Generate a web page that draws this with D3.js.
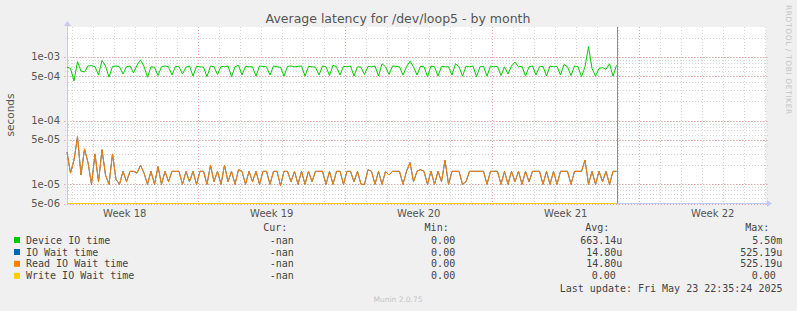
<!DOCTYPE html>
<html>
<head>
<meta charset="utf-8">
<script src="https://cdn.jsdelivr.net/npm/d3@7"></script>
<style>
  html, body { margin: 0; padding: 0; background: #f0f0f0; }
  svg { display: block; }
</style>
</head>
<body>
<svg id="chart" width="797" height="311"></svg>
<script>
// time window of the graph (UTC)
const timeStart = "2025-04-27T18:00:00Z";
const timeEnd = "2025-05-31T00:50:00Z";
const lastUpdate = "2025-05-23T22:35:24Z";
const stepHours = 4;

// Device IO time, microseconds, one value per step
const deviceIO = [
  690, 660, 420, 840, 600, 580, 720, 730, 700, 520, 880, 720, 480, 710, 720, 700, 540, 700, 720, 560,
  740, 900, 710, 480, 700, 690, 510, 700, 720, 700, 520, 710, 700, 540, 690, 720, 500, 710, 700, 690,
  490, 720, 700, 530, 710, 700, 720, 490, 700, 740, 520, 710, 700, 700, 500, 720, 710, 700, 520, 720,
  700, 690, 500, 710, 720, 700, 710, 720, 500, 710, 700, 690, 520, 720, 700, 510, 740, 700, 520, 710,
  700, 720, 500, 700, 690, 530, 710, 700, 720, 500, 780, 700, 530, 720, 710, 700, 520, 700, 860, 700,
  520, 710, 700, 490, 720, 700, 500, 710, 700, 700, 520, 780, 700, 500, 710, 700, 720, 490, 700, 710,
  500, 720, 700, 710, 510, 700, 540, 720, 830, 700, 710, 500, 700, 720, 520, 700, 710, 500, 720, 700,
  710, 520, 760, 700, 510, 720, 700, 490, 700, 1450, 660, 500, 660, 680, 640, 780, 500, 740
];

// IO Wait time, microseconds (Read IO Wait time has the same values)
const ioWait = [
  32, 15, 24, 56, 14, 36, 22, 10, 30, 11, 35, 14, 10, 30, 12, 10, 16, 11, 16, 16,
  15, 20, 15, 10, 16, 10, 19, 10, 16, 11, 16, 16, 16, 10, 16, 11, 16, 10, 16, 16,
  10, 20, 11, 16, 10, 20, 11, 16, 10, 17, 16, 10, 16, 11, 16, 10, 16, 16, 10, 16,
  16, 9.5, 16, 16, 11, 16, 10, 16, 10, 16, 11, 16, 16, 16, 10, 16, 10, 16, 16, 10,
  16, 16, 11, 16, 10, 10, 17, 16, 10, 16, 10, 16, 14, 16, 16, 16, 10, 16, 22, 11,
  16, 17, 16, 10, 16, 10, 16, 11, 24, 10, 16, 16, 16, 10, 11, 16, 16, 16, 16, 16,
  10, 16, 16, 16, 10, 16, 10, 16, 11, 16, 10, 16, 11, 16, 16, 16, 10, 16, 10, 16,
  10, 16, 16, 16, 10, 16, 16, 16, 24, 10, 16, 10, 16, 11, 16, 10, 16, 16
];
const readWait = ioWait;

// Write IO Wait time, all zero
const writeWait = [
  0,0,0,0,0,0,0,0,0,0,0,0,0,0,0,0,0,0,0,0,0,0,0,0,0,0,0,0,0,0,0,0,0,0,0,0,0,0,0,0,
  0,0,0,0,0,0,0,0,0,0,0,0,0,0,0,0,0,0,0,0,0,0,0,0,0,0,0,0,0,0,0,0,0,0,0,0,0,0,0,0,
  0,0,0,0,0,0,0,0,0,0,0,0,0,0,0,0,0,0,0,0,0,0,0,0,0,0,0,0,0,0,0,0,0,0,0,0,0,0,0,0,
  0,0,0,0,0,0,0,0,0,0,0,0,0,0,0,0,0,0,0,0,0,0,0,0,0,0,0,0,0,0,0,0,0,0,0,0,0,0
];

const seriesNames = ["Device IO time", "IO Wait time", "Read IO Wait time", "Write IO Wait time"];
const seriesColors = ["#00cc00", "#0066b3", "#ff8000", "#ffcc00"];
const curValues = ["-nan", "-nan", "-nan", "-nan"];
const minValues = ["0.00", "0.00", "0.00", "0.00"];
const avgValues = ["663.14u", "14.80u", "14.80u", "0.00"];
const maxValues = ["5.50m", "525.19u", "525.19u", "0.00"];

const yMin = 5e-6, yMax = 2.95e-3;
const yLabels = [5e-6, 1e-5, 5e-5, 1e-4, 5e-4, 1e-3];

const plot = { left: 67, right: 766, top: 27, bottom: 203.5 };

const svg = d3.select("#chart");
const sans = "'DejaVu Sans', Verdana, sans-serif";
const mono = "'DejaVu Sans Mono', monospace";

const x = d3.scaleUtc()
    .domain([new Date(timeStart), new Date(timeEnd)])
    .range([plot.left, plot.right])

const y = d3.scaleLog()
    .domain([yMin, yMax])
    .range([plot.bottom, plot.top])
    .clamp(true)

// plot background
svg.append("rect")
    .attr("x", plot.left).attr("y", plot.top)
    .attr("width", plot.right - plot.left).attr("height", plot.bottom - plot.top)
    .attr("fill", "#ffffff")

const grid = svg.append("g").attr("shape-rendering", "crispEdges")

// horizontal minor grid (every integer multiple of each decade)
const minorY = []
for (let e = -6; e <= -3; e++) {
    for (let m = 1; m <= 9; m++) {
        const v = m * Math.pow(10, e)
        if (v >= yMin && v <= yMax) minorY.push(v)
    }
}
grid.selectAll("line.hminor")
    .data(minorY)
    .join("line")
    .attr("class", "hminor")
    .attr("x1", plot.left - 2).attr("x2", plot.right + 2)
    .attr("y1", d => Math.round(y(d)) + 0.5).attr("y2", d => Math.round(y(d)) + 0.5)
    .attr("stroke", "#d6d6d6")
    .attr("stroke-dasharray", "1,2")

// vertical minor grid (days)
const days = d3.utcDay.range(x.domain()[0], x.domain()[1])
grid.selectAll("line.vminor")
    .data(days)
    .join("line")
    .attr("class", "vminor")
    .attr("x1", d => Math.round(x(d)) + 0.5).attr("x2", d => Math.round(x(d)) + 0.5)
    .attr("y1", plot.top).attr("y2", plot.bottom + 2)
    .attr("stroke", "#d6d6d6")
    .attr("stroke-dasharray", "1,2")

// horizontal major grid
grid.selectAll("line.hmajor")
    .data(yLabels)
    .join("line")
    .attr("class", "hmajor")
    .attr("x1", plot.left - 3).attr("x2", plot.right + 2)
    .attr("y1", d => Math.round(y(d)) + 0.5).attr("y2", d => Math.round(y(d)) + 0.5)
    .attr("stroke", "#eba5a5")
    .attr("stroke-dasharray", "1,2")

// vertical major grid (weeks, starting Sunday)
const weeks = d3.utcSunday.range(x.domain()[0], x.domain()[1])
grid.selectAll("line.vmajor")
    .data(weeks)
    .join("line")
    .attr("class", "vmajor")
    .attr("x1", d => Math.round(x(d)) + 0.5).attr("x2", d => Math.round(x(d)) + 0.5)
    .attr("y1", plot.top).attr("y2", plot.bottom + 3)
    .attr("stroke", "#eba5a5")
    .attr("stroke-dasharray", "1,2")

// axes
const axisY = Math.floor(plot.bottom) + 0.5
svg.append("line")
    .attr("x1", plot.left + 0.5).attr("x2", plot.left + 0.5)
    .attr("y1", plot.bottom).attr("y2", plot.top - 2)
    .attr("stroke", "#c8c8f4")
svg.append("line")
    .attr("x1", plot.left).attr("x2", plot.right + 1)
    .attr("y1", axisY).attr("y2", axisY)
    .attr("stroke", "#c8c8f4")
svg.append("path")
    .attr("d", `M${plot.left - 3},${plot.top - 1} L${plot.left + 0.5},${plot.top - 6} L${plot.left + 4},${plot.top - 1} Z`)
    .attr("fill", "#c8c8f4")
svg.append("path")
    .attr("d", `M${plot.right + 1},${axisY - 3.5} L${plot.right + 6},${axisY} L${plot.right + 1},${axisY + 3.5} Z`)
    .attr("fill", "#c8c8f4")

// y tick labels
svg.selectAll("text.ylab")
    .data(yLabels)
    .join("text")
    .attr("class", "ylab")
    .attr("x", plot.left - 7)
    .attr("y", d => y(d) + 3.5)
    .attr("text-anchor", "end")
    .attr("font-family", sans).attr("font-size", 10)
    .attr("fill", "#555")
    .text(d => d3.format(".0e")(d).replace(/e([+-])(\d)$/, "e$10$2"))

// week labels, centred in the week
const fmtWeek = d3.utcFormat("%V")
const weekMids = d3.utcSunday.range(d3.utcSunday.floor(x.domain()[0]), x.domain()[1])
    .map(d => d3.utcHour.offset(d, 84))
    .filter(d => x(d) > plot.left && x(d) < plot.right)
svg.selectAll("text.xlab")
    .data(weekMids)
    .join("text")
    .attr("class", "xlab")
    .attr("x", d => x(d))
    .attr("y", plot.bottom + 13)
    .attr("text-anchor", "middle")
    .attr("font-family", sans).attr("font-size", 10)
    .attr("fill", "#555")
    .text(d => "Week " + fmtWeek(d))

// series
const t0 = new Date(timeStart)
const timeAt = i => d3.utcHour.offset(t0, i * stepHours)
const line = d3.line()
    .x((d, i) => x(timeAt(i)))
    .y(d => d > 0 ? y(d) : axisY)

const seriesData = [
    deviceIO.map(v => v * 1e-6),
    ioWait.map(v => v * 1e-6),
    readWait.map(v => v * 1e-6),
    writeWait.map(v => v * 1e-6)
]
// draw write first (bottom), then device, IO wait and read on top
const drawOrder = [3, 0, 1, 2]
svg.append("g")
    .selectAll("path")
    .data(drawOrder)
    .join("path")
    .attr("d", k => line(seriesData[k]))
    .attr("fill", "none")
    .attr("stroke", k => seriesColors[k])
    .attr("stroke-width", 1)

// "now" marker
const nowX = Math.floor(x(new Date(lastUpdate))) + 0.5
svg.append("line")
    .attr("x1", nowX).attr("x2", nowX)
    .attr("y1", plot.top).attr("y2", plot.bottom)
    .attr("stroke", "#8c8c8c")

// title and side texts
svg.append("text")
    .attr("x", 398).attr("y", 23)
    .attr("text-anchor", "middle")
    .attr("font-family", sans).attr("font-size", 12.5)
    .attr("fill", "#555")
    .text("Average latency for /dev/loop5 - by month")

svg.append("text")
    .attr("transform", "translate(14,115) rotate(-90)")
    .attr("text-anchor", "middle")
    .attr("font-family", sans).attr("font-size", 10.5)
    .attr("fill", "#555")
    .text("seconds")

svg.append("text")
    .attr("transform", "translate(786,5) rotate(90)")
    .attr("font-family", sans).attr("font-size", 7.5)
    .attr("letter-spacing", 0.6)
    .attr("fill", "#c4c4c4")
    .text("RRDTOOL / TOBI OETIKER")

// legend
const legend = svg.append("g")
    .attr("font-family", mono).attr("font-size", 10)
    .attr("fill", "#444")

const rowY = [243.5, 255.5, 267.3, 279.3]
const colHeadEnd = [287.3, 448.7, 609.3, 769.3]
const colHeads = ["Cur:", "Min:", "Avg:", "Max:"]
const cols = [curValues, minValues, avgValues, maxValues]

legend.selectAll("text.head")
    .data(colHeads)
    .join("text")
    .attr("class", "head")
    .attr("x", (d, i) => colHeadEnd[i])
    .attr("y", 231)
    .attr("text-anchor", "end")
    .text(d => d)

legend.selectAll("rect.swatch")
    .data(seriesNames)
    .join("rect")
    .attr("class", "swatch")
    .attr("x", 14).attr("y", (d, i) => rowY[i] - 6.5)
    .attr("width", 6).attr("height", 6)
    .attr("fill", (d, i) => seriesColors[i])

legend.selectAll("text.name")
    .data(seriesNames)
    .join("text")
    .attr("class", "name")
    .attr("x", 26).attr("y", (d, i) => rowY[i])
    .text(d => d)

// values with a unit suffix end one character further right
cols.forEach((vals, c) => {
    legend.selectAll("text.col" + c)
        .data(vals)
        .join("text")
        .attr("class", "col" + c)
        .attr("x", d => colHeadEnd[c] + (/[a-z]$/.test(d) && !/nan$/.test(d) ? 13 : 6.5))
        .attr("y", (d, i) => rowY[i])
        .attr("text-anchor", "end")
        .text(d => d)
})

legend.append("text")
    .attr("x", 782.5).attr("y", 291.5)
    .attr("text-anchor", "end")
    .text("Last update: Fri May 23 22:35:24 2025")

svg.append("text")
    .attr("x", 398).attr("y", 302)
    .attr("text-anchor", "middle")
    .attr("font-family", sans).attr("font-size", 7.5)
    .attr("fill", "#c4c4c4")
    .text("Munin 2.0.75")
</script>
</body>
</html>
